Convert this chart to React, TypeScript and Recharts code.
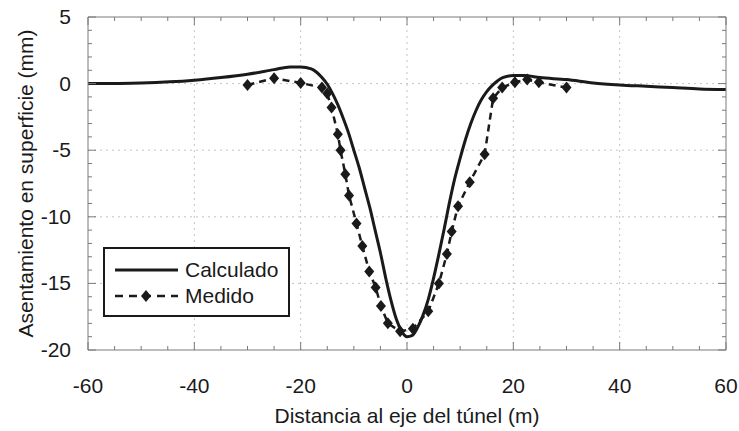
import React from "react";
import { LineChart, Line, XAxis, YAxis, ReferenceLine, Legend } from "recharts";

// curva calculada (distancia m, asentamiento mm)
const calcDist = [
  -60, -50, -40, -35, -30, -25, -22, -20, -18, -17, -16, -15, -14, -13, -12, -11, -10, -9, -8, -7, -6, -5, -4, -3,
  -2, -1, 0, 1, 2, 3, 4, 5, 6, 7, 8, 9, 10, 11, 12, 13, 14, 15, 16, 17, 18, 20, 22, 25, 30, 35, 40, 45, 50, 55, 60,
];
const calcSettle = [
  0.0, 0.05, 0.25, 0.45, 0.7, 1.05, 1.25, 1.25, 1.1, 0.85, 0.45, -0.05, -0.75, -1.6, -2.6, -3.7, -5.0, -6.3, -7.8, -9.3,
  -11.0, -12.7, -14.6, -16.3, -17.7, -18.6, -19.0, -18.9, -18.3, -17.4, -16.2, -14.6, -12.8, -10.9, -8.9, -7.1, -5.6,
  -4.2, -3.0, -2.0, -1.2, -0.6, -0.15, 0.2, 0.45, 0.6, 0.6, 0.45, 0.3, 0.05, -0.1, -0.2, -0.3, -0.4, -0.45,
];

// puntos medidos
const medDist = [
  -30, -25, -20, -16, -15, -14.2, -13, -12.5, -11.6, -10.9, -9.5, -8.4, -7.1, -5.9, -4.9, -3.6, -1.3, 1.1, 4, 6, 7.5,
  8.4, 9.6, 11.8, 14.6, 16.2, 17.9, 20.3, 22.6, 24.8, 30,
];
const medSettle = [
  -0.1, 0.4, 0.05, -0.3, -0.75, -1.8, -3.8, -5.0, -6.8, -8.4, -10.5, -12.2, -14.1, -15.3, -16.7, -18.0, -18.6, -18.4,
  -17.1, -15.0, -12.8, -11.1, -9.2, -7.4, -5.3, -1.1, -0.3, 0.1, 0.3, 0.1, -0.3,
];

const xTicks = [-60, -55, -50, -45, -40, -35, -30, -25, -20, -15, -10, -5, 0, 5, 10, 15, 20, 25, 30, 35, 40, 45, 50, 55, 60];
const yTicks = [
  -20, -19, -18, -17, -16, -15, -14, -13, -12, -11, -10, -9, -8, -7, -6, -5, -4, -3, -2, -1, 0, 1, 2, 3, 4, 5,
];
const xGrid = [-40, -20, 0, 20, 40];
const yGrid = [-15, -10, -5, 0];

const calcData = calcDist.map((d, i) => ({ d, s: calcSettle[i] }));
const medData = medDist.map((d, i) => ({ d, s: medSettle[i] }));

const FONT = "'Liberation Sans', Arial, sans-serif";
const INK = "#1a1a1a";
const FRAME = "#7a7a7a";
const GRID = "#c4c4c4";
const FS = 21;

const BottomTick = ({ x, y, payload }: any) => {
  const major = payload.value % 20 === 0;
  return (
    <g>
      <line x1={x} x2={x} y1={y} y2={y - (major ? 8 : 4)} stroke={FRAME} />
      {major && (
        <text x={x} y={y + 43} textAnchor="middle" fontSize={FS} fill={INK} fontFamily={FONT}>
          {payload.value}
        </text>
      )}
    </g>
  );
};

const TopTick = ({ x, y, payload }: any) => {
  const major = payload.value % 20 === 0;
  return <line x1={x} x2={x} y1={y} y2={y + (major ? 8 : 4)} stroke={FRAME} />;
};

const LeftTick = ({ x, y, payload }: any) => {
  const major = payload.value % 5 === 0;
  return (
    <g>
      <line x1={x} x2={x + (major ? 8 : 4)} y1={y} y2={y} stroke={FRAME} />
      {major && (
        <text x={x - 17} y={y + 7} textAnchor="end" fontSize={FS} fill={INK} fontFamily={FONT}>
          {payload.value}
        </text>
      )}
    </g>
  );
};

const RightTick = ({ x, y, payload }: any) => {
  const major = payload.value % 5 === 0;
  return <line x1={x} x2={x - (major ? 8 : 4)} y1={y} y2={y} stroke={FRAME} />;
};

const Diamond = (props: any) => {
  const { cx, cy } = props;
  if (cx == null || cy == null) return null;
  return <polygon points={`${cx},${cy - 6} ${cx + 5},${cy} ${cx},${cy + 6} ${cx - 5},${cy}`} fill={INK} />;
};

const LegendBox = () => (
  <div style={{ width: 187, height: 70, border: `2px solid ${INK}`, boxSizing: "border-box", background: "#fff" }}>
    <svg width={183} height={66} style={{ display: "block" }}>
      <line x1={10} x2={73} y1={21} y2={21} stroke={INK} strokeWidth={3} />
      <line x1={10} x2={73} y1={47} y2={47} stroke={INK} strokeWidth={2.5} strokeDasharray="8 6" />
      <Diamond cx={41} cy={47} />
      <text x={80} y={28} fontSize={FS} fill={INK} fontFamily={FONT}>
        Calculado
      </text>
      <text x={80} y={54} fontSize={FS} fill={INK} fontFamily={FONT}>
        Medido
      </text>
    </svg>
  </div>
);

export default function App() {
  return (
    <div style={{ position: "absolute", left: 0, top: 0, background: "#fff" }}>
      <LineChart
        width={739}
        height={431}
        margin={{ top: 16, right: 12, bottom: 0, left: 10 }}
        style={{ fontFamily: FONT }}
      >
        <XAxis
          xAxisId="b"
          dataKey="d"
          type="number"
          domain={[-60, 60]}
          allowDataOverflow
          ticks={xTicks}
          interval={0}
          height={81}
          tickSize={0}
          tickMargin={0}
          tickLine={false}
          axisLine={{ stroke: FRAME }}
          tick={<BottomTick />}
          label={{
            value: "Distancia al eje del túnel (m)",
            position: "insideBottom",
            offset: 8,
            fontSize: FS,
            fill: INK,
          }}
        />
        <XAxis
          xAxisId="t"
          orientation="top"
          dataKey="d"
          type="number"
          domain={[-60, 60]}
          allowDataOverflow
          ticks={xTicks}
          interval={0}
          height={1}
          tickSize={0}
          tickMargin={0}
          tickLine={false}
          axisLine={{ stroke: FRAME }}
          tick={<TopTick />}
        />
        <YAxis
          yAxisId="l"
          dataKey="s"
          type="number"
          domain={[-20, 5]}
          allowDataOverflow
          ticks={yTicks}
          interval={0}
          width={78}
          tickSize={0}
          tickMargin={0}
          tickLine={false}
          axisLine={{ stroke: FRAME }}
          tick={<LeftTick />}
          label={{
            value: "Asentamiento en superficie (mm)",
            angle: -90,
            position: "insideLeft",
            offset: 16,
            fontSize: FS,
            fill: INK,
            style: { textAnchor: "middle" },
          }}
        />
        <YAxis
          yAxisId="r"
          orientation="right"
          dataKey="s"
          type="number"
          domain={[-20, 5]}
          allowDataOverflow
          ticks={yTicks}
          interval={0}
          width={1}
          tickSize={0}
          tickMargin={0}
          tickLine={false}
          axisLine={{ stroke: FRAME }}
          tick={<RightTick />}
        />

        {xGrid.map((v) => (
          <ReferenceLine key={"gx" + v} xAxisId="b" yAxisId="l" x={v} stroke={GRID} strokeDasharray="2 4" />
        ))}
        {yGrid.map((v) => (
          <ReferenceLine key={"gy" + v} xAxisId="b" yAxisId="l" y={v} stroke={GRID} strokeDasharray="2 4" />
        ))}

        <Line
          xAxisId="b"
          yAxisId="l"
          data={calcData}
          dataKey="s"
          name="Calculado"
          type="monotone"
          stroke={INK}
          strokeWidth={3}
          dot={false}
          activeDot={false}
          isAnimationActive={false}
        />
        <Line
          xAxisId="b"
          yAxisId="l"
          data={medData}
          dataKey="s"
          name="Medido"
          type="linear"
          stroke={INK}
          strokeWidth={2.5}
          strokeDasharray="7 5"
          dot={<Diamond />}
          activeDot={false}
          isAnimationActive={false}
        />
        <Legend
          layout="vertical"
          align="center"
          verticalAlign="middle"
          wrapperStyle={{ position: "absolute", left: 103, top: 247, width: 187, height: 70 }}
          content={() => <LegendBox />}
        />
      </LineChart>
    </div>
  );
}
